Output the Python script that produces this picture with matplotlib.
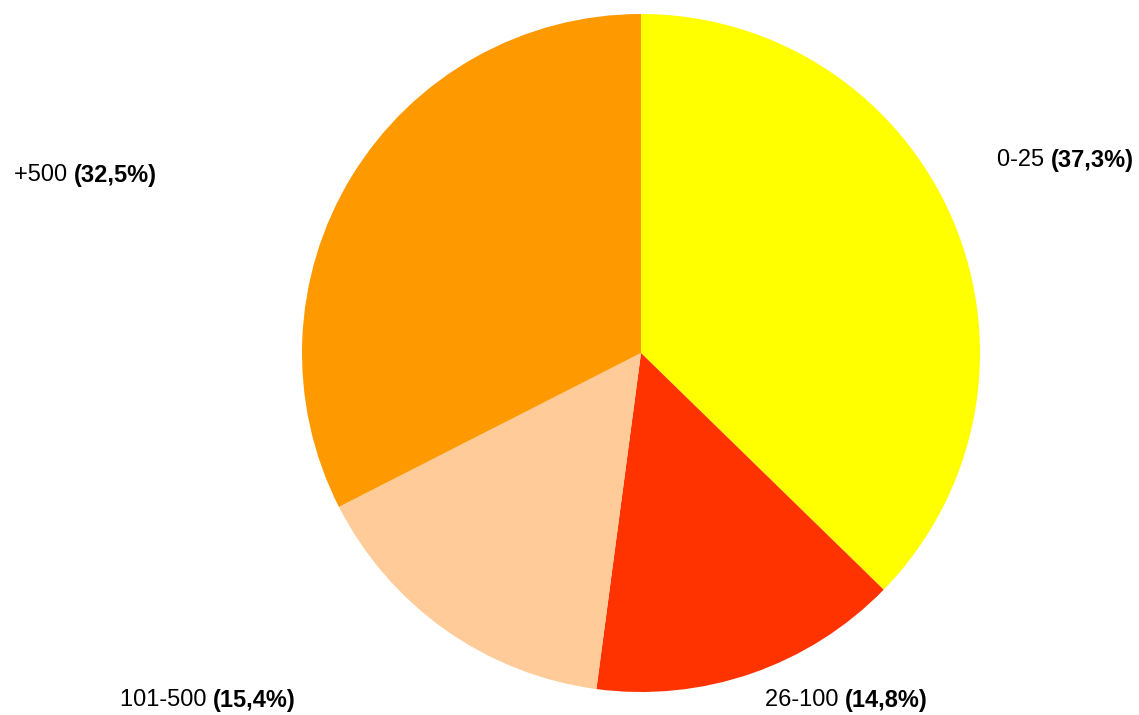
import matplotlib.pyplot as plt

# data
groups = ["0-25", "26-100", "101-500", "+500"]
shares = [37.3, 14.8, 15.4, 32.5]
share_labels = ["(37,3%)", "(14,8%)", "(15,4%)", "(32,5%)"]
colors = ["#FFFF00", "#FF3300", "#FFCC99", "#FF9900"]

# label anchors (left edge, vertical centre) in pie radius units
label_pos = [(1.050, 0.569), (0.366, -1.024), (-1.537, -1.024), (-1.850, 0.525)]

plt.rcParams['font.family'] = ['Liberation Sans', 'DejaVu Sans']

fig = plt.figure(figsize=(11.39, 7.15), dpi=100)
ax = fig.add_axes([0, 0, 1, 1])

ax.pie(shares, colors=colors, startangle=90, counterclock=False,
       radius=1.0, center=(0, 0),
       wedgeprops={'linewidth': 0, 'antialiased': True})

for name, pct, (x, y) in zip(groups, share_labels, label_pos):
    t = ax.text(x, y, name + " ", fontsize=17, ha='left', va='center')
    ax.annotate(pct, xy=(1, 0.5), xycoords=t, fontsize=17, fontweight='bold',
                ha='left', va='center')

# map data units so centre sits at (641, 353) px with radius 339 px
ax.set_xlim(-641 / 339, (1139 - 641) / 339)
ax.set_ylim(-(715 - 353) / 339, 353 / 339)
ax.set_aspect('auto')
ax.axis('off')

plt.savefig("out.png", dpi=100, facecolor='white')
plt.close()
